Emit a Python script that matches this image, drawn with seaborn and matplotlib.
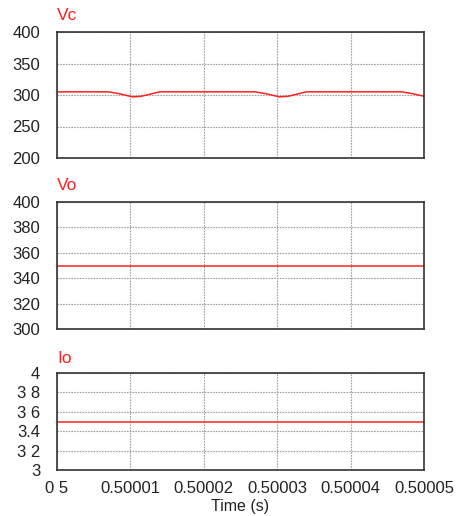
import numpy as np
import pandas as pd
import matplotlib
matplotlib.use("Agg")
import matplotlib.pyplot as plt
import seaborn as sns

# Vc waveform key points (time in us offset from 0.5 s)
vc_t_us = [0, 7.0, 8.5, 10.3, 11.5, 14.0, 27.0, 28.5, 30.3, 31.5, 34.0, 47.0, 48.5, 50.0]
vc_vals = [305, 305, 302, 297, 298, 305, 305, 302, 297, 298, 305, 305, 302, 298]

vo_t_us = [0, 50]
vo_vals = [350, 350]

io_t_us = [0, 50]
io_vals = [3.5, 3.5]

x_ticks = [0.5, 0.50001, 0.50002, 0.50003, 0.50004, 0.50005]
x_ticklabels = ["0 5", "0.50001", "0.50002", "0.50003", "0.50004", "0.50005"]

vc_yticks = [200, 250, 300, 350, 400]
vo_yticks = [300, 320, 340, 360, 380, 400]
io_yticks = [3, 3.2, 3.4, 3.6, 3.8, 4]
io_yticklabels = ["3", "3 2", "3.4", "3 6", "3 8", "4"]

sns.set_style("white")
plt.rcParams["font.family"] = ["Liberation Sans", "DejaVu Sans"]

W, H = 459, 516
fig = plt.figure(figsize=(W / 100, H / 100), dpi=100)

def make_ax(top, bottom):
    left, right = 57, 424
    return fig.add_axes([left / W, 1 - bottom / H, (right - left) / W, (bottom - top) / H])

panels = [
    ("Vc", 32, 158, vc_t_us, vc_vals, vc_yticks, None, (200, 400)),
    ("Vo", 202, 329, vo_t_us, vo_vals, vo_yticks, None, (300, 400)),
    ("Io", 373, 470, io_t_us, io_vals, io_yticks, io_yticklabels, (3, 4)),
]

for i, (name, top, bottom, t_us, vals, yt, ytl, ylim) in enumerate(panels):
    ax = make_ax(top, bottom)
    df = pd.DataFrame({"t": 0.5 + np.array(t_us) * 1e-6, "v": vals})
    sns.lineplot(data=df, x="t", y="v", ax=ax, color="#ff2020", linewidth=1.1, sort=False)
    ax.set_xlim(0.5, 0.50005)
    ax.set_ylim(*ylim)
    ax.set_xticks(x_ticks)
    ax.set_yticks(yt)
    if ytl is not None:
        ax.set_yticklabels(ytl)
    ax.grid(True, color="#a0a0a0", linestyle=(0, (1.5, 1)), linewidth=0.8)
    ax.tick_params(length=0, labelsize=12, pad=12, colors="#222222")
    for s in ax.spines.values():
        s.set_color("#333333")
        s.set_linewidth(1.2)
    ax.set_xlabel("")
    ax.set_ylabel("")
    ax.text(0.0, 1.07, name, transform=ax.transAxes, color="#ff2020", fontsize=12.5,
            ha="left", va="bottom")
    if i < 2:
        ax.set_xticklabels([])
    else:
        ax.set_xticklabels(x_ticklabels)
        ax.tick_params(axis="x", pad=8)
        ax.set_xlabel("Time (s)", fontsize=11.5, color="#222222", labelpad=2)

fig.savefig("out.png", dpi=100)
